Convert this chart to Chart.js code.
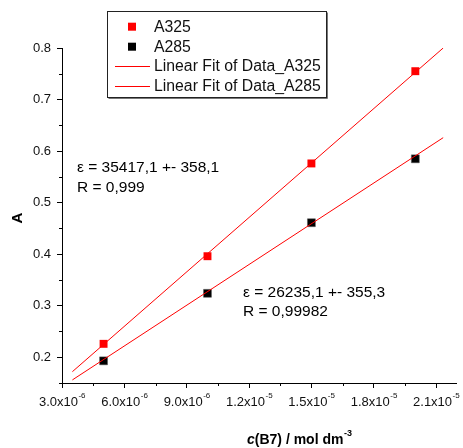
<!DOCTYPE html>
<html>
<head>
<meta charset="utf-8">
<script src="https://cdn.jsdelivr.net/npm/chart.js@4"></script>
<style>
  html, body { margin: 0; padding: 0; background: #fff; }
  #wrap { width: 463px; height: 448px; }
</style>
</head>
<body>
<div id="wrap"><canvas id="chart" width="463" height="448"></canvas></div>
<script>
// concentrations (mol dm-3)
const conc = [5e-6, 1e-5, 1.5e-5, 2e-5];
// absorbance values
const a325 = [0.226, 0.396, 0.576, 0.755];
const a285 = [0.193, 0.324, 0.461, 0.585];

// end points of the fitted lines, as drawn
const fitX = [3.5e-6, 2.134e-5];
const fit325 = [0.172, 0.800];
const fit285 = [0.156, 0.626];

// axis ticks
const xTicks = [3e-6, 6e-6, 9e-6, 1.2e-5, 1.5e-5, 1.8e-5, 2.1e-5];
const xTickMant = ['3.0', '6.0', '9.0', '1.2', '1.5', '1.8', '2.1'];
const xTickExp = ['-6', '-6', '-6', '-5', '-5', '-5', '-5'];
const yTicks = [0.2, 0.3, 0.4, 0.5, 0.6, 0.7, 0.8];
const yTickLabels = ['0.2', '0.3', '0.4', '0.5', '0.6', '0.7', '0.8'];

// fit results
const note325 = ['\u03b5 = 35417,1 +- 358,1', 'R = 0,999'];
const note285 = ['\u03b5 = 26235,1 +- 355,3', 'R = 0,99982'];

const FONT = '"Liberation Sans", Arial, sans-serif';

function toPoints(xs, ys) {
    return xs.map((x, i) => ({ x: x, y: ys[i] }));
}

// draws tick labels with exponents, minor ticks, titles, legend, notes
const extras = {
    id: 'extras',
    afterDraw(chart) {
        const ctx = chart.ctx;
        const xs = chart.scales.x;
        const ys = chart.scales.y;
        const area = chart.chartArea;
        ctx.save();

        // minor ticks halfway between majors
        ctx.strokeStyle = '#000';
        ctx.lineWidth = 1;
        ctx.beginPath();
        for (let i = 0; i < xTicks.length; i++) {
            const v = xTicks[i] + (xTicks[1] - xTicks[0]) / 2;
            if (v > xs.max) break;
            const px = Math.round(xs.getPixelForValue(v)) + 0.5;
            ctx.moveTo(px, area.bottom);
            ctx.lineTo(px, area.bottom + 3);
        }
        for (let i = -1; i < yTicks.length - 1; i++) {
            const v = (i < 0 ? yTicks[0] : yTicks[i]) + (i < 0 ? -0.05 : 0.05);
            if (v < ys.min) continue;
            const py = Math.round(ys.getPixelForValue(v)) + 0.5;
            ctx.moveTo(area.left, py);
            ctx.lineTo(area.left - 3, py);
        }
        ctx.stroke();

        // x tick labels with superscript exponents
        ctx.fillStyle = '#111';
        ctx.textBaseline = 'middle';
        xTicks.forEach((v, i) => {
            const px = xs.getPixelForValue(v);
            ctx.font = '13px ' + FONT;
            const main = xTickMant[i] + 'x10';
            const mw = ctx.measureText(main).width;
            ctx.font = '8px ' + FONT;
            const ew = ctx.measureText(xTickExp[i]).width;
            const left = px - (mw + ew) / 2;
            ctx.font = '13px ' + FONT;
            ctx.textAlign = 'left';
            ctx.fillText(main, left, 402);
            ctx.font = '8px ' + FONT;
            ctx.fillText(xTickExp[i], left + mw + 0.5, 396);
        });

        // axis titles
        ctx.fillStyle = '#000';
        ctx.save();
        ctx.translate(18, 218);
        ctx.rotate(-Math.PI / 2);
        ctx.font = 'bold 15px ' + FONT;
        ctx.textAlign = 'center';
        ctx.fillText('A', 0, 0);
        ctx.restore();

        let tx = 247;
        const ty = 440;
        ctx.textAlign = 'left';
        ctx.font = 'italic bold 14px ' + FONT;
        ctx.fillText('c', tx, ty);
        tx += ctx.measureText('c').width;
        ctx.font = 'bold 14px ' + FONT;
        ctx.fillText('(B7) / mol dm', tx, ty);
        tx += ctx.measureText('(B7) / mol dm').width + 0.5;
        ctx.font = 'bold 9px ' + FONT;
        ctx.fillText('-3', tx, ty - 6);

        // fit notes
        ctx.font = '15.5px ' + FONT;
        ctx.fillStyle = '#000';
        ctx.fillText(note325[0], 77, 168);
        ctx.fillText(note325[1], 77, 188);
        ctx.fillText(note285[0], 243, 293);
        ctx.fillText(note285[1], 243, 312);

        // legend box
        ctx.fillStyle = '#fff';
        ctx.fillRect(107.5, 11.5, 219, 86);
        ctx.strokeStyle = '#777';
        ctx.beginPath();
        ctx.moveTo(108.5, 98.5);
        ctx.lineTo(327.5, 98.5);
        ctx.lineTo(327.5, 12.5);
        ctx.stroke();
        ctx.strokeStyle = '#222';
        ctx.strokeRect(107.5, 11.5, 219, 86);

        const rows = [26.7, 46.7, 66, 86];
        const order = [1, 3, 0, 2];
        ctx.font = '15.8px ' + FONT;
        ctx.textAlign = 'left';
        order.forEach((di, r) => {
            const ds = chart.data.datasets[di];
            const y = rows[r];
            if (ds.showLine) {
                ctx.strokeStyle = ds.borderColor;
                ctx.lineWidth = 1;
                ctx.beginPath();
                ctx.moveTo(115, Math.round(y) + 0.5);
                ctx.lineTo(150, Math.round(y) + 0.5);
                ctx.stroke();
            } else {
                ctx.fillStyle = ds.backgroundColor;
                ctx.fillRect(128, y - 4, 8, 8);
            }
            ctx.fillStyle = '#111';
            ctx.fillText(ds.label, 154, y + 1);
        });

        ctx.restore();
    }
};

new Chart(document.getElementById('chart'), {
    type: 'scatter',
    data: {
        datasets: [
            {
                label: 'Linear Fit of Data_A325',
                data: toPoints(fitX, fit325),
                showLine: true,
                borderColor: 'rgb(255,0,0)',
                borderWidth: 1,
                pointRadius: 0,
                order: 0
            },
            {
                label: 'A325',
                data: toPoints(conc, a325),
                pointStyle: 'rect',
                pointRadius: 5.6,
                backgroundColor: 'rgb(255,0,0)',
                borderColor: 'rgb(255,0,0)',
                borderWidth: 0,
                order: 1
            },
            {
                label: 'Linear Fit of Data_A285',
                data: toPoints(fitX, fit285),
                showLine: true,
                borderColor: 'rgb(255,0,0)',
                borderWidth: 1,
                pointRadius: 0,
                order: 0
            },
            {
                label: 'A285',
                data: toPoints(conc, a285),
                pointStyle: 'rect',
                pointRadius: 5.6,
                backgroundColor: '#000',
                borderColor: '#555',
                borderWidth: 0.5,
                order: 1
            }
        ]
    },
    options: {
        responsive: false,
        animation: false,
        events: [],
        layout: { padding: { top: 48, right: 5, left: 0, bottom: 0 } },
        plugins: {
            legend: { display: false },
            tooltip: { enabled: false }
        },
        scales: {
            x: {
                type: 'linear',
                min: 3e-6,
                max: 2.2e-5,
                afterBuildTicks: (scale) => { scale.ticks = xTicks.map(v => ({ value: v })); },
                afterFit: (scale) => { scale.height = 65; },
                ticks: { display: false },
                grid: {
                    drawOnChartArea: false,
                    drawTicks: true,
                    tickLength: 5,
                    color: '#000'
                },
                border: { display: true, color: '#000', width: 1 }
            },
            y: {
                type: 'linear',
                min: 0.15,
                max: 0.8,
                afterBuildTicks: (scale) => { scale.ticks = yTicks.map(v => ({ value: v })); },
                afterFit: (scale) => { scale.width = 62; },
                ticks: {
                    color: '#111',
                    padding: 6,
                    font: { family: FONT, size: 13 },
                    callback: (v) => {
                        const i = yTicks.findIndex(t => Math.abs(t - v) < 1e-9);
                        return i >= 0 ? yTickLabels[i] : '';
                    }
                },
                grid: {
                    drawOnChartArea: false,
                    drawTicks: true,
                    tickLength: 5,
                    color: '#000'
                },
                border: { display: true, color: '#000', width: 1 }
            }
        }
    },
    plugins: [extras]
});
</script>
</body>
</html>
